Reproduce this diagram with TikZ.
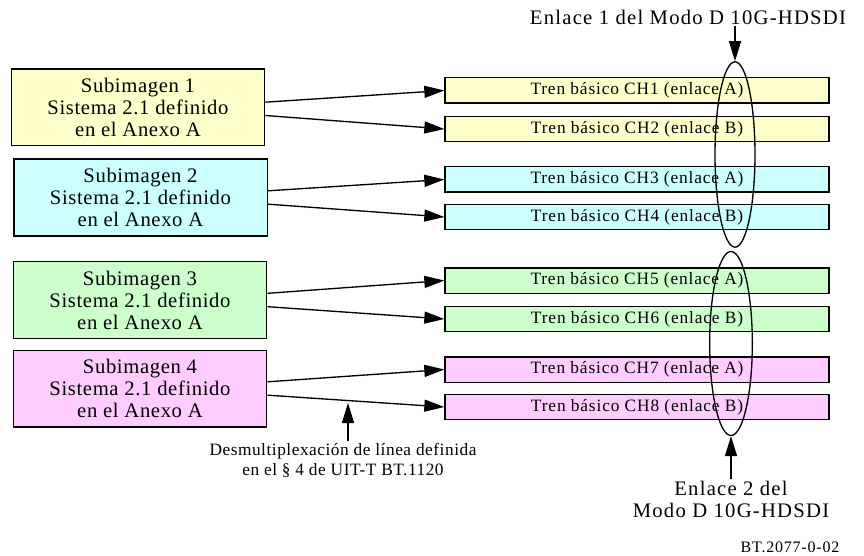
\documentclass[tikz,border=0pt]{standalone}
\usepackage{fontspec}
\setmainfont{Liberation Serif}
\newfontfamily\lsa[LetterSpace=3]{Liberation Serif}
\newfontfamily\lsb[LetterSpace=5]{Liberation Serif}
\newfontfamily\lsc[LetterSpace=6]{Liberation Serif}
\usepackage{tikz}
\usetikzlibrary{arrows.meta,shapes.geometric}
\usepackage{xcolor}

\definecolor{subyellow}{RGB}{255,255,204}
\definecolor{subcyan}{RGB}{204,255,255}
\definecolor{subgreen}{RGB}{204,255,204}
\definecolor{subpink}{RGB}{255,204,255}

\tikzset{
  subimg/.style={draw,line width=1pt,minimum width=190pt,minimum height=57.5pt,inner sep=0pt,align=center,
    font=\lsa\fontsize{15.5}{16.5}\selectfont},
  tren/.style={draw,line width=1pt,minimum width=288pt,minimum height=19pt,inner sep=0pt,
    font=\lsb\fontsize{13}{13}\selectfont},
  enlace/.style={draw,ellipse,line width=1pt,minimum width=30pt,minimum height=139pt,inner sep=0pt},
  nota/.style={align=center,inner sep=1pt,font=\lsc\fontsize{15.5}{16.5}\selectfont},
  notasm/.style={align=center,inner sep=1pt,font=\lsa\fontsize{13}{15}\selectfont}
}

\begin{document}
\begin{tikzpicture}[x=0.75pt,y=-0.75pt,->,>={Triangle[length=15pt,width=9pt]},line width=1pt]
\useasboundingbox (0,0) rectangle (864,556);

\node[subimg,fill=subyellow] (s1) at (138,107.5) {Subimagen 1\\Sistema 2.1 definido\\en el Anexo A};
\node[subimg,fill=subcyan] (s2) at (140.5,197.5) {Subimagen 2\\Sistema 2.1 definido\\en el Anexo A};
\node[subimg,fill=subgreen] (s3) at (140,300) {Subimagen 3\\Sistema 2.1 definido\\en el Anexo A};
\node[subimg,fill=subpink] (s4) at (140,388.5) {Subimagen 4\\Sistema 2.1 definido\\en el Anexo A};

\node[tren,fill=subyellow] (t1) at (637,90.5) {Tren básico CH1 (enlace A)};
\node[tren,fill=subyellow] (t2) at (637,129) {Tren básico CH2 (enlace B)};
\node[tren,fill=subcyan] (t3) at (637,179.5) {Tren básico CH3 (enlace A)};
\node[tren,fill=subcyan] (t4) at (637,217) {Tren básico CH4 (enlace B)};
\node[tren,fill=subgreen] (t5) at (637,280.5) {Tren básico CH5 (enlace A)};
\node[tren,fill=subgreen] (t6) at (637,319) {Tren básico CH6 (enlace B)};
\node[tren,fill=subpink] (t7) at (637,369.5) {Tren básico CH7 (enlace A)};
\node[tren,fill=subpink] (t8) at (637,407) {Tren básico CH8 (enlace B)};

% demultiplexacion de linea
\draw ([yshift=4pt]s1.east) -- (t1.west);
\draw ([yshift=-6pt]s1.east) -- (t2.west);
\draw ([yshift=5pt]s2.east) -- (t3.west);
\draw ([yshift=-5pt]s2.east) -- (t4.west);
\draw ([yshift=5pt]s3.east) -- (t5.west);
\draw ([yshift=-5pt]s3.east) -- (t6.west);
\draw ([yshift=5pt]s4.east) -- (t7.west);
\draw ([yshift=-5pt]s4.east) -- (t8.west);

% enlaces 10G-HDSDI
\node[enlace] (l1) at (735,154.5) {};
\node[enlace,minimum width=32pt,minimum height=138pt] (l2) at (731,343.5) {};

\node[nota] (e1) at (688,17) {Enlace 1 del Modo D 10G-HDSDI};
\node[nota] (e2) at (731,499) {Enlace 2 del\\Modo D 10G-HDSDI};
\draw (l1.north |- e1.south) -- (l1.north);
\draw (e2.north -| l2.south) -- (l2.south);

\node[notasm] (dm) at (343,460) {Desmultiplexación de línea definida\\en el § 4 de UIT-T BT.1120};
\coordinate (dmtip) at (348,403);
\draw (dm.north -| dmtip) -- (dmtip);

\node[notasm,anchor=south,font=\lsb\fontsize{12}{12}\selectfont] (ref) at (790,555) {BT.2077-0-02};
\end{tikzpicture}
\end{document}
